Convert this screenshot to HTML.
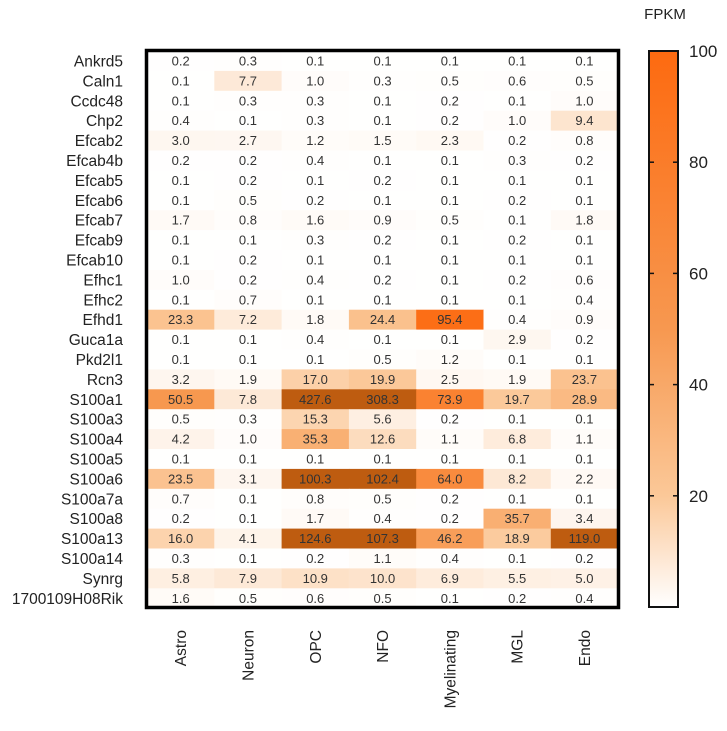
<!DOCTYPE html>
<html><head><meta charset="utf-8"><style>
body{margin:0;background:#fff;width:727px;height:726px;overflow:hidden;font-family:"Liberation Sans",sans-serif}
</style></head><body>
<svg id="chart" width="727" height="726" xmlns="http://www.w3.org/2000/svg">
<defs><linearGradient id="cg" x1="0" y1="1" x2="0" y2="0">
<stop offset="0" stop-color="#ffffff"/><stop offset="0.1" stop-color="#fde3cc"/><stop offset="0.2" stop-color="#fbc898"/><stop offset="0.5" stop-color="#f79850"/><stop offset="1" stop-color="#fd6a10"/>
</linearGradient></defs>
<g id="cells"></g>
<rect x="146.5" y="50.5" width="472" height="557" fill="none" stroke="#000" stroke-width="3.5"/>
<g id="rowlabels"></g><g id="collabels"></g>
<rect x="649" y="51" width="29" height="556" fill="url(#cg)" stroke="#111" stroke-width="2"/>
<text x="665" y="19" font-size="15" text-anchor="middle" fill="#222">FPKM</text>
<g id="cticks"></g>
</svg>
<script>
const genes=["Ankrd5","Caln1","Ccdc48","Chp2","Efcab2","Efcab4b","Efcab5","Efcab6","Efcab7","Efcab9","Efcab10","Efhc1","Efhc2","Efhd1","Guca1a","Pkd2l1","Rcn3","S100a1","S100a3","S100a4","S100a5","S100a6","S100a7a","S100a8","S100a13","S100a14","Synrg","1700109H08Rik"];
const cellTypes=["Astro","Neuron","OPC","NFO","Myelinating","MGL","Endo"];
const values=[
[0.2,0.3,0.1,0.1,0.1,0.1,0.1],
[0.1,7.7,1.0,0.3,0.5,0.6,0.5],
[0.1,0.3,0.3,0.1,0.2,0.1,1.0],
[0.4,0.1,0.3,0.1,0.2,1.0,9.4],
[3.0,2.7,1.2,1.5,2.3,0.2,0.8],
[0.2,0.2,0.4,0.1,0.1,0.3,0.2],
[0.1,0.2,0.1,0.2,0.1,0.1,0.1],
[0.1,0.5,0.2,0.1,0.1,0.2,0.1],
[1.7,0.8,1.6,0.9,0.5,0.1,1.8],
[0.1,0.1,0.3,0.2,0.1,0.2,0.1],
[0.1,0.2,0.1,0.1,0.1,0.1,0.1],
[1.0,0.2,0.4,0.2,0.1,0.2,0.6],
[0.1,0.7,0.1,0.1,0.1,0.1,0.4],
[23.3,7.2,1.8,24.4,95.4,0.4,0.9],
[0.1,0.1,0.4,0.1,0.1,2.9,0.2],
[0.1,0.1,0.1,0.5,1.2,0.1,0.1],
[3.2,1.9,17.0,19.9,2.5,1.9,23.7],
[50.5,7.8,427.6,308.3,73.9,19.7,28.9],
[0.5,0.3,15.3,5.6,0.2,0.1,0.1],
[4.2,1.0,35.3,12.6,1.1,6.8,1.1],
[0.1,0.1,0.1,0.1,0.1,0.1,0.1],
[23.5,3.1,100.3,102.4,64.0,8.2,2.2],
[0.7,0.1,0.8,0.5,0.2,0.1,0.1],
[0.2,0.1,1.7,0.4,0.2,35.7,3.4],
[16.0,4.1,124.6,107.3,46.2,18.9,119.0],
[0.3,0.1,0.2,1.1,0.4,0.1,0.2],
[5.8,7.9,10.9,10.0,6.9,5.5,5.0],
[1.6,0.5,0.6,0.5,0.1,0.2,0.4]];
const colorTicks=[20,40,60,80,100];

const NS="http://www.w3.org/2000/svg";
const X0=147,Y0=51,CW=67.3,RH=19.9;
const colX=j=>X0+j*CW, rowY=i=>Y0+i*RH;
const CB_TOP=51,CB_BOT=607;
const cbY=v=>CB_BOT-(v/100)*(CB_BOT-CB_TOP);
const stops=[[0,[255,255,255]],[10,[253,227,204]],[20,[251,200,152]],[50,[247,152,80]],[100,[253,106,16]]];
function color(v){
  if(v>100) return "rgb(190,92,16)";
  for(let k=1;k<stops.length;k++){
    if(v<=stops[k][0]){const a=stops[k-1],b=stops[k];const t=(v-a[0])/(b[0]-a[0]);
      const c=a[1].map((x,n)=>Math.round(x+(b[1][n]-x)*t));return `rgb(${c})`;}
  }
  return "rgb(253,106,16)";
}
function mk(tag,attrs,parent){const e=document.createElementNS(NS,tag);for(const k in attrs)e.setAttribute(k,attrs[k]);parent.appendChild(e);return e;}
const cells=document.getElementById('cells');
values.forEach((row,i)=>row.forEach((v,j)=>{
  const r=mk('rect',{x:colX(j),y:rowY(i),width:CW+0.5,height:RH+0.5,fill:color(v)},cells);
  
  
  const t=mk('text',{x:colX(j)+CW/2,y:rowY(i)+RH/2+4.5,'font-size':13,'text-anchor':'middle',fill:'#333'},cells);
  t.textContent=v.toFixed(1);
  
  
}));
const rl=document.getElementById('rowlabels');
genes.forEach((g,i)=>{
  const t=mk('text',{x:123,y:rowY(i)+RH/2+5.5,'font-size':15.5,'text-anchor':'end',fill:'#222'},rl);
  t.textContent=g;
  
  
});
const cl=document.getElementById('collabels');
cellTypes.forEach((c,j)=>{
  const x=colX(j)+CW/2+5.5,y=630;
  const t=mk('text',{x:x,y:y,'font-size':15.5,'text-anchor':'end',fill:'#222',transform:`rotate(-90 ${x} ${y})`},cl);
  t.textContent=c;
  
  
});
const ct=document.getElementById('cticks');
colorTicks.forEach(v=>{
  const y=cbY(v);
  if(v<100){
    const l1=mk('line',{x1:649,x2:654,y1:y,y2:y,stroke:'#111','stroke-width':1.5},ct);
    
    
    const l2=mk('line',{x1:673,x2:678,y1:y,y2:y,stroke:'#111','stroke-width':1.5},ct);
    
    
  }
  const t=mk('text',{x:689,y:y+6,'font-size':17,fill:'#222'},ct);
  t.textContent=v;
  
  
});
</script>
</body></html>
